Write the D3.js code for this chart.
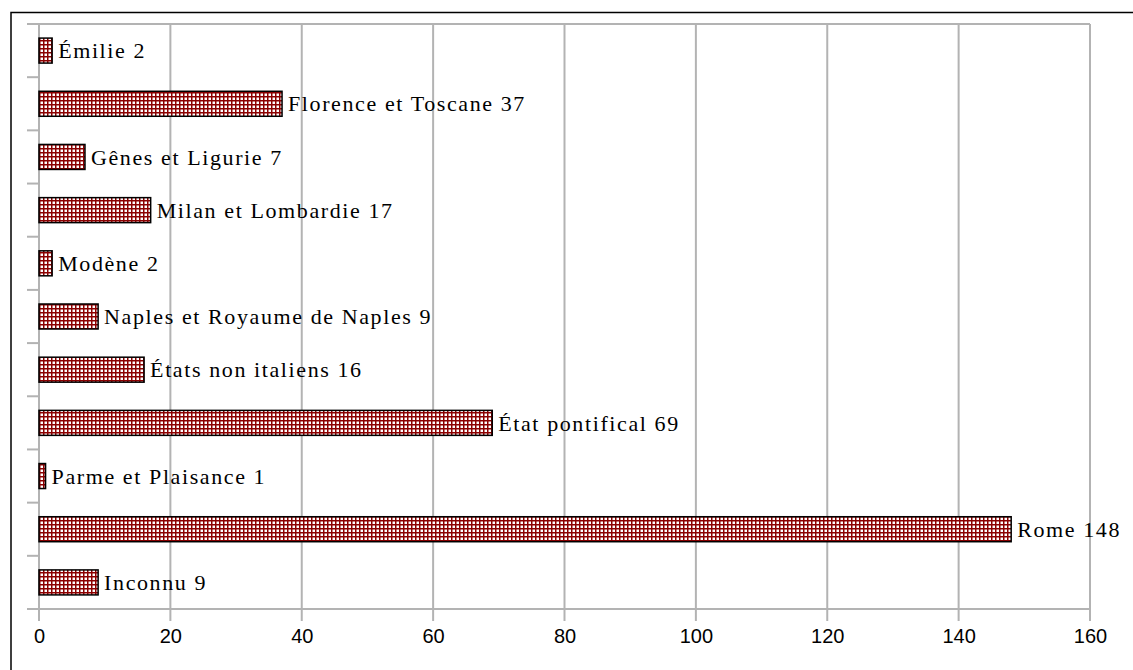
<!DOCTYPE html>
<html>
<head>
<meta charset="utf-8">
<script src="https://cdn.jsdelivr.net/npm/d3@7"></script>
<style>
  body { margin: 0; background: #fff; }
</style>
</head>
<body>
<div id="chart"></div>
<script>
const regions = ["Émilie", "Florence et Toscane", "Gênes et Ligurie", "Milan et Lombardie", "Modène",
    "Naples et Royaume de Naples", "États non italiens", "État pontifical", "Parme et Plaisance", "Rome", "Inconnu"];
const counts = [2, 37, 7, 17, 2, 9, 16, 69, 1, 148, 9];
const xTicks = [0, 20, 40, 60, 80, 100, 120, 140, 160];

const W = 1133, H = 670;
const margin = { top: 24, right: 43, bottom: 61, left: 39 };
const width = W - margin.left - margin.right;
const height = H - margin.top - margin.bottom;

const svg = d3.select("#chart")
    .append("svg")
    .attr("width", W)
    .attr("height", H);

// hatch pattern for the bars
const pat = svg.append("defs").append("pattern")
    .attr("id", "grid")
    .attr("patternUnits", "userSpaceOnUse")
    .attr("width", 4)
    .attr("height", 4);
pat.append("rect").attr("width", 4).attr("height", 4).attr("fill", "#8b0000");
pat.append("rect").attr("x", 1.5).attr("y", 1.5).attr("width", 2.5).attr("height", 2.5).attr("fill", "#fff");

// outer frame (top and left only)
svg.append("path")
    .attr("d", `M11,${H} L11,12.5 L${W},12.5`)
    .attr("fill", "none")
    .attr("stroke", "#000")
    .attr("stroke-width", 1.5);

const g = svg.append("g").attr("transform", `translate(${margin.left},${margin.top})`);

const x = d3.scaleLinear().domain([0, 160]).range([0, width]);
const y = d3.scaleBand().domain(regions).range([0, height]).paddingInner(0.53).paddingOuter(0.265);
const yEdge = d3.scaleLinear().domain([0, regions.length]).range([0, height]);

// vertical gridlines
g.append("g")
    .selectAll("line")
    .data(xTicks)
    .join("line")
    .attr("x1", d => x(d)).attr("x2", d => x(d))
    .attr("y1", 0).attr("y2", height + 12)
    .attr("stroke", "#b3b3b3")
    .attr("stroke-width", 2);

// top and bottom gridlines + left category ticks
g.append("line").attr("x1", -12).attr("x2", width).attr("y1", 0).attr("y2", 0)
    .attr("stroke", "#b3b3b3").attr("stroke-width", 2);
g.append("line").attr("x1", -12).attr("x2", width).attr("y1", height).attr("y2", height)
    .attr("stroke", "#b3b3b3").attr("stroke-width", 2);
g.append("g")
    .selectAll("line")
    .data(d3.range(1, regions.length))
    .join("line")
    .attr("x1", -12).attr("x2", 0)
    .attr("y1", d => yEdge(d)).attr("y2", d => yEdge(d))
    .attr("stroke", "#b3b3b3")
    .attr("stroke-width", 2);

// x axis labels
const xAxis = d3.axisBottom(x).tickValues(xTicks).tickSize(0).tickPadding(20);
g.append("g")
    .attr("transform", `translate(0,${height})`)
    .call(xAxis)
    .call(a => a.select(".domain").remove())
    .selectAll("text")
    .style("font-family", "'Liberation Sans', Arial, sans-serif")
    .style("font-size", "20px")
    .attr("fill", "#000");

// bars
g.selectAll("rect.bar")
    .data(regions)
    .join("rect")
    .attr("class", "bar")
    .attr("x", x(0))
    .attr("y", d => y(d))
    .attr("width", (d, i) => x(counts[i]) - x(0))
    .attr("height", y.bandwidth())
    .attr("fill", "url(#grid)")
    .attr("stroke", "#000")
    .attr("stroke-width", 1.5);

// labels
g.selectAll("text.lbl")
    .data(regions)
    .join("text")
    .attr("class", "lbl")
    .attr("x", (d, i) => x(counts[i]) + 6)
    .attr("y", d => y(d) + y.bandwidth() / 2)
    .attr("dy", "0.35em")
    .style("font-family", "'Liberation Serif', 'DejaVu Serif', serif")
    .style("font-size", "22px")
    .style("letter-spacing", "1.6px")
    .attr("fill", "#000")
    .text((d, i) => `${d} ${counts[i]}`);
</script>
</body>
</html>
